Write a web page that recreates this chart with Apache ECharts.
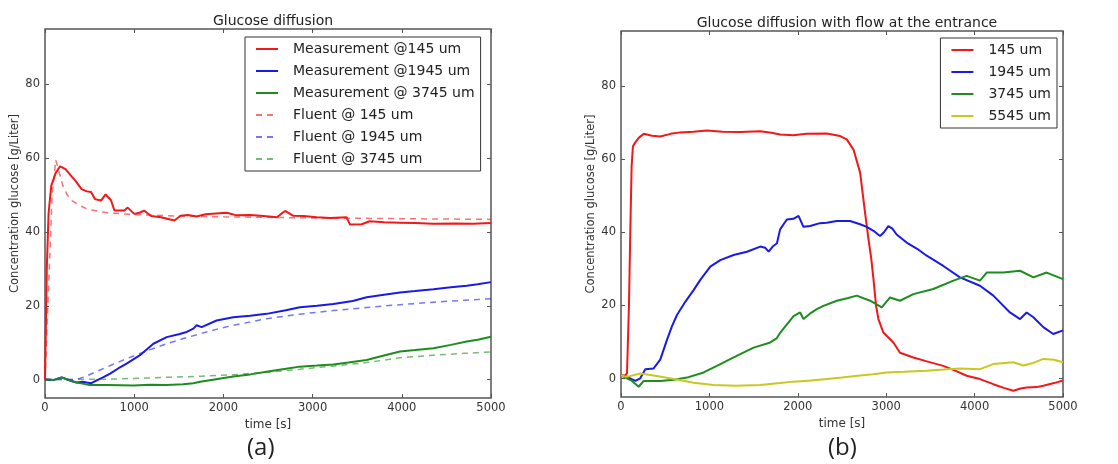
<!DOCTYPE html>
<html>
<head>
<meta charset="utf-8">
<script src="https://cdn.jsdelivr.net/npm/echarts@6/dist/echarts.min.js"></script>
<style>
html,body{margin:0;padding:0;background:#fff;}
#chart{width:1118px;height:464px;}
</style>
</head>
<body>
<div id="chart"></div>
<script>
// ---------- DATA ----------
const titleA = 'Glucose diffusion';
const titleB = 'Glucose diffusion with flow at the entrance';
const xTicks = [0, 1000, 2000, 3000, 4000, 5000];
const yTicks = [0, 20, 40, 60, 80];
const xName = 'time [s]';
const yName = 'Concentration glucose [g/Liter]';
const namesA = ['Measurement @145 um', 'Measurement @1945 um', 'Measurement @ 3745 um',
                'Fluent @ 145 um', 'Fluent @ 1945 um', 'Fluent @ 3745 um'];
const namesB = ['145 um', '1945 um', '3745 um', '5545 um'];

// Panel (a): [time s, concentration g/L]
const measA145 = [[0,0],[20,30],[40,45],[70,52.5],[120,56],[170,57.8],[230,57],[300,55],[340,53.9],[410,51.6],[470,51],[516,50.8],[560,48.9],[628,48.5],[680,50.2],[700,49.6],[740,48.6],[778,45.8],[890,45.8],[927,46.6],[1000,44.9],[1060,45.2],[1110,45.8],[1190,44.3],[1300,44],[1450,43.1],[1520,44.4],[1600,44.6],[1700,44.2],[1800,44.8],[2036,45.2],[2150,44.5],[2300,44.6],[2450,44.3],[2600,44],[2690,45.7],[2780,44.4],[2900,44.3],[3045,44],[3200,43.8],[3380,44],[3420,42],[3550,42.1],[3640,42.9],[3800,42.6],[3980,42.5],[4150,42.4],[4350,42.2],[4600,42.3],[4800,42.2],[5000,42.4]];
const measA1945 = [[0,0],[100,-0.1],[187,0.6],[250,0],[355,-0.8],[420,-0.6],[467,-0.8],[520,-1],[580,-0.2],[650,0.6],[730,1.6],[820,3],[915,4.3],[1065,6.6],[1215,9.7],[1364,11.5],[1500,12.3],[1588,12.9],[1663,13.8],[1700,14.7],[1756,14.2],[1924,16],[2110,16.9],[2300,17.3],[2484,17.8],[2700,18.8],[2858,19.6],[3050,20],[3232,20.5],[3450,21.3],[3606,22.3],[3800,23],[3980,23.6],[4150,24],[4355,24.5],[4550,25],[4728,25.4],[4850,25.8],[5000,26.4]];
const measA3745 = [[0,0],[100,-0.1],[187,0.6],[250,0],[300,-0.5],[355,-0.8],[420,-1.1],[500,-1.5],[700,-1.5],[992,-1.6],[1180,-1.4],[1364,-1.5],[1550,-1.3],[1663,-1],[1740,-0.6],[1900,0],[2110,0.8],[2300,1.4],[2484,2.1],[2700,2.9],[2858,3.5],[3050,3.8],[3232,4.1],[3400,4.6],[3606,5.3],[3800,6.5],[3980,7.6],[4150,8],[4355,8.5],[4550,9.4],[4728,10.3],[4850,10.8],[5000,11.6]];
const fluA145 = [[0,0],[40,25],[80,50],[120,59.5],[150,57],[200,52.5],[250,50],[300,48.5],[400,47],[500,46],[700,45.2],[1000,44.7],[1500,44.3],[2000,44.1],[3000,43.8],[4000,43.6],[5000,43.4]];
const fluA1945 = [[0,0],[350,0],[450,0.8],[618,2.6],[800,4.5],[992,6.4],[1180,8.1],[1364,9.7],[1550,11.1],[1738,12.4],[1920,13.6],[2110,14.7],[2300,15.6],[2484,16.5],[2850,17.7],[3232,18.7],[3600,19.5],[3980,20.3],[4500,21.2],[5000,21.9]];
const fluA3745 = [[0,0],[700,0.1],[1000,0.3],[1364,0.6],[1750,0.9],[2110,1.3],[2500,2],[2858,2.8],[3250,3.7],[3606,4.6],[3980,5.9],[4355,6.6],[4700,7.1],[5000,7.5]];

// Panel (b): [time s, concentration g/L]
const measB145 = [[0,0.9],[49,0.9],[68,1.5],[90,20],[105,40],[120,58],[135,63.5],[160,64.5],[200,65.8],[257,66.9],[350,66.4],[444,66.2],[560,66.9],[670,67.3],[820,67.5],[972,67.8],[1150,67.5],[1349,67.4],[1575,67.6],[1700,67.2],[1800,66.7],[1950,66.5],[2100,66.9],[2328,67],[2479,66.3],[2554,65.4],[2630,62.6],[2705,56.3],[2761,45.3],[2800,38],[2830,33],[2856,27.2],[2885,20],[2912,16.3],[2968,12.6],[3081,9.9],[3156,7.1],[3307,5.8],[3450,4.8],[3646,3.5],[3780,2.2],[3910,0.8],[4061,-0.1],[4212,-1.5],[4330,-2.5],[4438,-3.3],[4520,-2.7],[4589,-2.4],[4700,-2.3],[4777,-1.9],[4900,-1.2],[5000,-0.5]];
const measB1945 = [[0,0.9],[68,0.5],[162,-0.6],[218,0.1],[275,2.6],[369,2.8],[444,5.2],[520,10.6],[576,14.3],[633,17.4],[727,21],[821,24.2],[897,27],[1010,30.6],[1123,32.4],[1274,33.8],[1425,34.7],[1575,36.1],[1630,35.8],[1670,34.7],[1720,36.2],[1764,37],[1800,40.8],[1876,43.5],[1950,43.7],[2008,44.5],[2064,41.5],[2140,41.7],[2250,42.5],[2328,42.6],[2440,43.1],[2591,43.1],[2705,42.2],[2780,41.5],[2856,40.4],[2930,39],[2975,40],[3024,41.7],[3070,41],[3118,39.4],[3231,37.2],[3350,35.5],[3458,33.6],[3646,30.8],[3835,27.7],[4061,25.4],[4212,22.7],[4400,18.1],[4514,16.3],[4589,18.1],[4665,16.8],[4777,14.1],[4890,12.2],[5000,13.2]];
const measB3745 = [[0,0.9],[124,-0.6],[200,-2.2],[257,-0.6],[444,-0.6],[600,-0.3],[746,0.3],[934,1.7],[1085,3.5],[1274,5.8],[1500,8.5],[1689,9.9],[1760,11],[1802,12.6],[1952,17.1],[2027,18.1],[2064,16.3],[2150,18],[2215,19],[2290,19.9],[2441,21.3],[2560,22],[2667,22.7],[2818,21.3],[2950,19.5],[3044,22.2],[3156,21.3],[3307,23.1],[3533,24.5],[3760,26.8],[3910,28.1],[4061,26.8],[4137,29],[4325,29],[4514,29.5],[4665,27.7],[4815,29],[5000,27.2]];
const measB5545 = [[0,0.9],[68,0.5],[218,1.4],[369,0.9],[633,-0.2],[821,-1.1],[1047,-1.7],[1300,-1.9],[1575,-1.7],[1800,-1.2],[1952,-0.8],[2150,-0.5],[2328,-0.1],[2500,0.3],[2705,0.9],[2850,1.2],[3006,1.7],[3200,1.9],[3458,2.2],[3650,2.5],[3835,2.8],[4061,2.6],[4212,4],[4438,4.5],[4551,3.6],[4650,4.2],[4777,5.4],[4900,5.2],[5000,4.5]];

// ---------- STYLE ----------
const RED = '#f01818', BLUE = '#1a1ae8', GREEN = '#1e8c1e', YEL = '#c8c820';
const FONT = 'DejaVu Sans';
const frame = '#555';

const grids = [
  {left: 45, top: 29, width: 446, height: 369},
  {left: 621, top: 31, width: 442, height: 366}
];

const plain = v => String(v);

function xAxes(gi) {
  return [
    {type: 'value', gridIndex: gi, min: 0, max: 5000, interval: 1000, position: 'bottom',
     name: xName, nameLocation: 'middle', nameGap: 18,
     nameTextStyle: {fontFamily: FONT, fontSize: 12, color: '#333'},
     axisLine: {show: false, onZero: false}, splitLine: {show: false},
     axisTick: {show: true, inside: true, length: 4, customValues: xTicks, lineStyle: {color: frame}},
     axisLabel: {fontFamily: FONT, fontSize: 11.5, color: '#333', margin: 4, customValues: xTicks, formatter: plain}},
    {type: 'value', gridIndex: gi, min: 0, max: 5000, interval: 1000, position: 'top',
     axisLine: {show: false, onZero: false}, splitLine: {show: false}, axisLabel: {show: false},
     axisTick: {show: true, inside: true, length: 4, customValues: xTicks, lineStyle: {color: frame}}}
  ];
}
function yAxes(gi) {
  return [
    {type: 'value', gridIndex: gi, min: -5, max: 95, position: 'left',
     name: yName, nameLocation: 'middle', nameGap: 24, nameRotate: 90,
     nameTextStyle: {fontFamily: FONT, fontSize: 11.5, color: '#333', padding: [0, 0, 0, 20]},
     axisLine: {show: false, onZero: false}, splitLine: {show: false},
     axisTick: {show: true, inside: true, length: 4, customValues: yTicks, lineStyle: {color: frame}},
     axisLabel: {fontFamily: FONT, fontSize: 11.5, color: '#333', margin: 5, customValues: yTicks, formatter: plain}},
    {type: 'value', gridIndex: gi, min: -5, max: 95, position: 'right',
     axisLine: {show: false, onZero: false}, splitLine: {show: false}, axisLabel: {show: false},
     axisTick: {show: true, inside: true, length: 4, customValues: yTicks, lineStyle: {color: frame}}}
  ];
}

function line(name, data, color, xi, yi, dashed) {
  return {
    type: 'line', name: name, data: data, xAxisIndex: xi, yAxisIndex: yi,
    symbol: 'none', smooth: false, animation: false, silent: true,
    lineStyle: dashed ? {color: color, width: 1.5, type: [6, 5], opacity: 0.6}
                      : {color: color, width: 2},
    itemStyle: {color: color},
    z: dashed ? 3 : 2
  };
}

const legendText = {fontFamily: FONT, fontSize: 14, color: '#222', padding: [0, 0, 0, 10]};
const legendCommon = {
  orient: 'vertical', itemWidth: 22, itemHeight: 14, itemGap: 8,
  padding: [5, 6, 5, 10], borderColor: '#333', borderWidth: 1, backgroundColor: '#fff',
  textStyle: legendText, selectedMode: false,
  itemStyle: {opacity: 0}
};

const option = {
  backgroundColor: '#fff',
  animation: false,
  title: [
    {text: titleA, left: 268, top: 9, textAlign: 'center',
     textStyle: {fontFamily: FONT, fontSize: 14, fontWeight: 'normal', color: '#222'}},
    {text: titleB, left: 842, top: 11, textAlign: 'center',
     textStyle: {fontFamily: FONT, fontSize: 14, fontWeight: 'normal', color: '#222'}}
  ],
  grid: grids.map(g => Object.assign({show: true, borderColor: frame, borderWidth: 1.5, backgroundColor: 'transparent'}, g)),
  xAxis: [].concat(xAxes(0), xAxes(1)),
  yAxis: [].concat(yAxes(0), yAxes(1)),
  legend: [
    Object.assign({data: namesA, left: 245, top: 37}, legendCommon),
    Object.assign({data: namesB, right: 61, top: 38}, legendCommon)
  ],
  graphic: [
    {type: 'text', left: 247, top: 436, style: {text: '(a)', font: '24px "Open Sans"', fill: '#222'}},
    {type: 'text', left: 828, top: 436, style: {text: '(b)', font: '24px "Open Sans"', fill: '#222'}}
  ],
  series: [
    line(namesA[0], measA145, RED, 0, 0, false),
    line(namesA[1], measA1945, BLUE, 0, 0, false),
    line(namesA[2], measA3745, GREEN, 0, 0, false),
    line(namesA[3], fluA145, RED, 0, 0, true),
    line(namesA[4], fluA1945, BLUE, 0, 0, true),
    line(namesA[5], fluA3745, GREEN, 0, 0, true),
    line(namesB[0], measB145, RED, 2, 2, false),
    line(namesB[1], measB1945, BLUE, 2, 2, false),
    line(namesB[2], measB3745, GREEN, 2, 2, false),
    line(namesB[3], measB5545, YEL, 2, 2, false)
  ]
};

const chart = echarts.init(document.getElementById('chart'), null, {renderer: 'canvas'});
chart.setOption(option);
</script>
</body>
</html>
